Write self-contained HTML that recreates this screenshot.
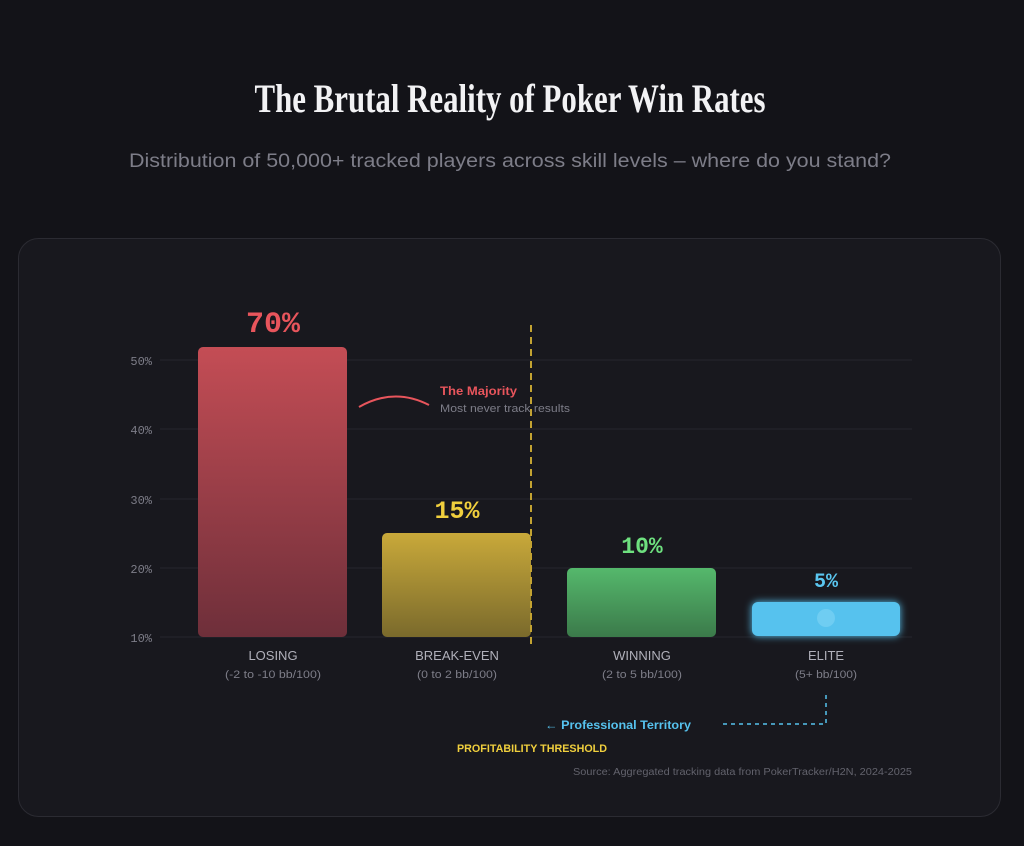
<!DOCTYPE html>
<html><head><meta charset="utf-8"><style>
html,body{margin:0;padding:0;background:#131318;}
svg{display:block}
</style></head><body>
<svg width="1024" height="846" viewBox="0 0 1024 846" xmlns="http://www.w3.org/2000/svg">
<defs>
<linearGradient id="gr" x1="0" y1="0" x2="0" y2="1"><stop offset="0" stop-color="#c44d55"/><stop offset="1" stop-color="#6e2f3a"/></linearGradient>
<linearGradient id="gy" x1="0" y1="0" x2="0" y2="1"><stop offset="0" stop-color="#c9a93a"/><stop offset="1" stop-color="#7a6a2c"/></linearGradient>
<linearGradient id="gg" x1="0" y1="0" x2="0" y2="1"><stop offset="0" stop-color="#55b86c"/><stop offset="1" stop-color="#3b7a4a"/></linearGradient>
<filter id="glow" x="-20%" y="-60%" width="140%" height="220%"><feGaussianBlur stdDeviation="4" result="b"/><feMerge><feMergeNode in="b"/><feMergeNode in="SourceGraphic"/></feMerge></filter>
</defs>
<rect width="1024" height="846" fill="#131318"/>
<text x="510" y="112" text-anchor="middle" font-family="Liberation Serif, serif" font-weight="bold" font-size="40" fill="#f2f2f4" textLength="511" lengthAdjust="spacingAndGlyphs">The Brutal Reality of Poker Win Rates</text>
<text x="510" y="167" text-anchor="middle" font-family="Liberation Sans, sans-serif" font-size="19" fill="#7d7d88" textLength="762" lengthAdjust="spacingAndGlyphs">Distribution of 50,000+ tracked players across skill levels – where do you stand?</text>
<rect x="18.5" y="238.5" width="982" height="578" rx="20" fill="#18181e" stroke="#2b2b32"/>
<g stroke="#26262d" stroke-width="1">
<line x1="160" y1="360" x2="912" y2="360"/><line x1="160" y1="429" x2="912" y2="429"/><line x1="160" y1="499" x2="912" y2="499"/><line x1="160" y1="568" x2="912" y2="568"/><line x1="160" y1="637" x2="912" y2="637"/>
</g>
<g font-family="Liberation Mono, monospace" font-size="12" fill="#7d7d88" text-anchor="end">
<text x="152" y="365">50%</text><text x="152" y="434">40%</text><text x="152" y="504">30%</text><text x="152" y="573">20%</text><text x="152" y="642">10%</text>
</g>
<rect x="198" y="347" width="149" height="290" rx="5" fill="url(#gr)"/>
<rect x="382" y="533" width="149" height="104" rx="5" fill="url(#gy)"/>
<rect x="567" y="568" width="149" height="69" rx="5" fill="url(#gg)"/>
<rect x="752" y="602" width="148" height="34" rx="6" fill="#56c2ee" filter="url(#glow)"/>
<circle cx="826" cy="618" r="9" fill="#6fcdf2"/>
<g font-family="Liberation Mono, monospace" font-weight="bold" text-anchor="middle">
<text x="273" y="332" font-size="30" fill="#e8555c">70%</text>
<text x="457" y="518" font-size="25" fill="#f0cf3d">15%</text>
<text x="642" y="553" font-size="23" fill="#6ee07f">10%</text>
<text x="826" y="587" font-size="20" fill="#5ac6f0">5%</text>
</g>
<line x1="531" y1="325" x2="531" y2="645" stroke="#c3a332" stroke-width="2" stroke-dasharray="7,5"/>
<path d="M359 407 Q394 387 429 405" fill="none" stroke="#e8555c" stroke-width="2"/>
<text x="440" y="395" font-family="Liberation Sans, sans-serif" font-size="12" font-weight="bold" fill="#e8555c" textLength="77" lengthAdjust="spacingAndGlyphs">The Majority</text>
<text x="440" y="412" font-family="Liberation Sans, sans-serif" font-size="11" fill="#7d7d88" textLength="130" lengthAdjust="spacingAndGlyphs">Most never track results</text>
<g font-family="Liberation Sans, sans-serif" text-anchor="middle">
<text x="273" y="660" font-size="13" fill="#b0b0ba">LOSING</text><text x="273" y="678" font-size="11" fill="#7d7d88" textLength="96" lengthAdjust="spacingAndGlyphs">(-2 to -10 bb/100)</text>
<text x="457" y="660" font-size="13" fill="#b0b0ba">BREAK-EVEN</text><text x="457" y="678" font-size="11" fill="#7d7d88" textLength="80" lengthAdjust="spacingAndGlyphs">(0 to 2 bb/100)</text>
<text x="642" y="660" font-size="13" fill="#b0b0ba">WINNING</text><text x="642" y="678" font-size="11" fill="#7d7d88" textLength="80" lengthAdjust="spacingAndGlyphs">(2 to 5 bb/100)</text>
<text x="826" y="660" font-size="13" fill="#b0b0ba">ELITE</text><text x="826" y="678" font-size="11" fill="#7d7d88" textLength="62" lengthAdjust="spacingAndGlyphs">(5+ bb/100)</text>
</g>
<path d="M826 695 V724 H720" fill="none" stroke="#56c2ee" stroke-width="1.5" stroke-dasharray="4,4"/>
<text x="545" y="729" font-family="Liberation Sans, sans-serif" font-size="12" font-weight="bold" fill="#56c2ee" textLength="146" lengthAdjust="spacingAndGlyphs">← Professional Territory</text>
<text x="457" y="752" font-family="Liberation Sans, sans-serif" font-size="11" font-weight="bold" fill="#f0cf3d" textLength="150" lengthAdjust="spacingAndGlyphs">PROFITABILITY THRESHOLD</text>
<text x="912" y="775" text-anchor="end" font-family="Liberation Sans, sans-serif" font-size="10" fill="#62626c" textLength="339" lengthAdjust="spacingAndGlyphs">Source: Aggregated tracking data from PokerTracker/H2N, 2024-2025</text>
</svg>
</body></html>
